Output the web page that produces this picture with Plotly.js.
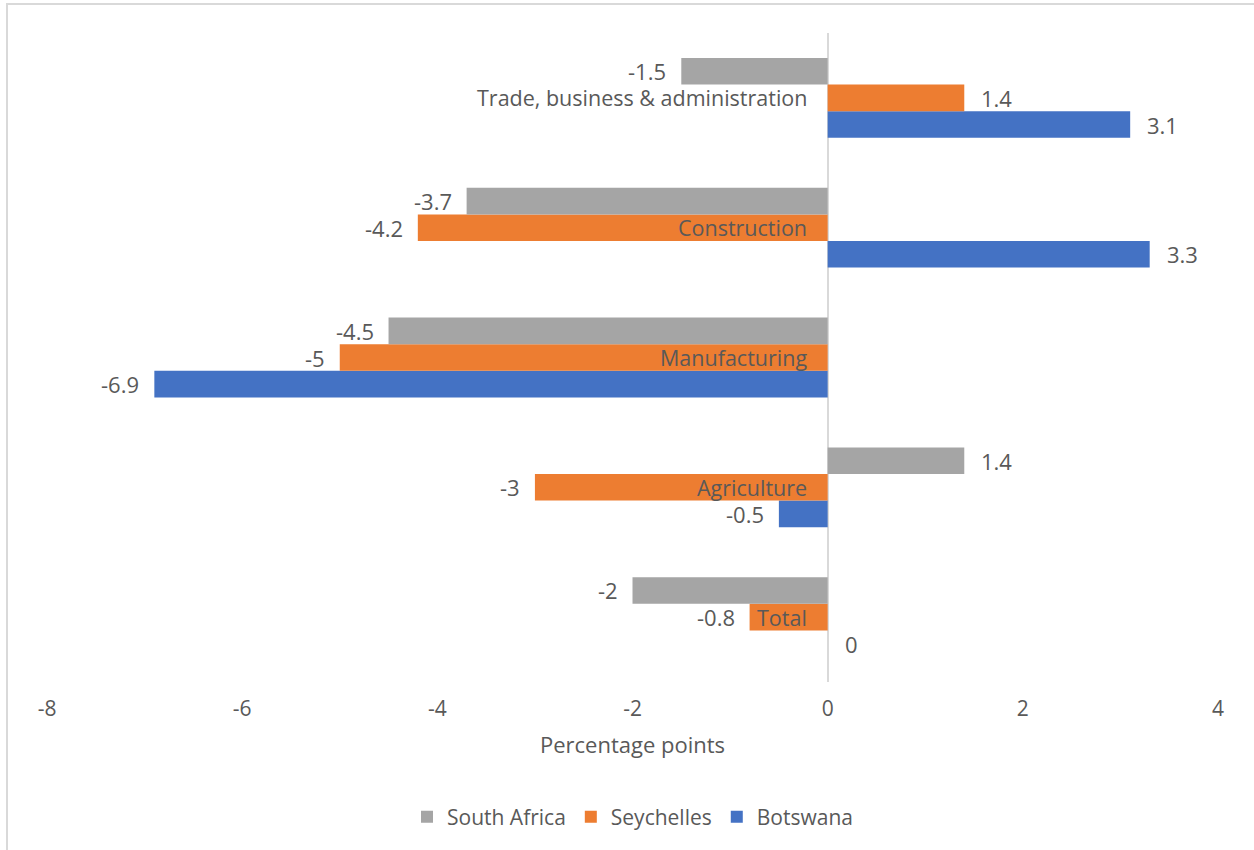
<!DOCTYPE html>
<html>
<head>
<meta charset="utf-8">
<script src="https://cdn.plot.ly/plotly-3.0.1.min.js"></script>
<style>
  html, body { margin: 0; padding: 0; background: #fff; }
  #wrap { position: relative; width: 1254px; height: 850px; }
  #chart { position: absolute; left: 0; top: 0; width: 1254px; height: 850px; }
  #frame { position: absolute; left: 6px; top: 3px; width: 1260px; height: 860px;
           border-left: 2px solid #D9D9D9; border-top: 2px solid #D9D9D9; pointer-events: none; }
</style>
</head>
<body>
<div id="wrap">
  <div id="chart"></div>
  <div id="frame"></div>
</div>
<script>
// Categories (bottom to top as drawn)
const categories = ["Total", "Agriculture", "Manufacturing", "Construction", "Trade, business & administration"];
// Series values (same order as categories)
const southAfrica = [-2, 1.4, -4.5, -3.7, -1.5];
const seychelles  = [-0.8, -3, -5, -4.2, 1.4];
const botswana    = [0, -0.5, -6.9, 3.3, 3.1];
const seriesNames = ["South Africa", "Seychelles", "Botswana"];
const xTicks = [-8, -6, -4, -2, 0, 2, 4];

const FONT = "'Open Sans', 'Liberation Sans', Arial, sans-serif";
const TXT = "#595959";
const colors = { "South Africa": "#A5A5A5", "Seychelles": "#ED7D31", "Botswana": "#4472C4" };

// Traces: first trace is lowest within a group (Botswana at bottom)
const seriesData = [
  { name: "Botswana", vals: botswana },
  { name: "Seychelles", vals: seychelles },
  { name: "South Africa", vals: southAfrica }
];

const traces = seriesData.map(s => ({
  type: "bar",
  orientation: "h",
  name: s.name,
  x: s.vals,
  y: categories,
  marker: { color: colors[s.name], line: { width: 0 } },
  hoverinfo: "x+name"
}));

const bargap = 0.385;
const barW = (1 - bargap) / 3;
const offsets = { "Botswana": -barW, "Seychelles": 0, "South Africa": barW };

const annotations = [];
seriesData.forEach(s => {
  s.vals.forEach((v, i) => {
    annotations.push({
      x: v, y: i + offsets[s.name], xref: "x", yref: "y",
      text: String(v), showarrow: false,
      xanchor: v >= 0 ? "left" : "right",
      xshift: v >= 0 ? 15 : -13,
      font: { family: FONT, size: 22, color: TXT }
    });
  });
});
categories.forEach((c, i) => {
  annotations.push({
    x: 0, y: i, xref: "x", yref: "y",
    text: c, showarrow: false, xanchor: "right", xshift: -19,
    font: { family: FONT, size: 21.5, color: TXT }
  });
});

const layout = {
  width: 1254, height: 850,
  margin: { l: 47, r: 36, t: 33, b: 168 },
  paper_bgcolor: "#fff", plot_bgcolor: "#fff",
  barmode: "group", bargap: bargap, bargroupgap: 0,
  font: { family: FONT, color: TXT, size: 21 },
  xaxis: {
    range: [-8, 4], tickvals: xTicks, ticktext: xTicks.map(String),
    showgrid: false, zeroline: true, zerolinecolor: "#D9D9D9", zerolinewidth: 2,
    showline: false, ticks: "", ticklabelstandoff: 12,
    tickfont: { family: FONT, size: 21, color: TXT },
    title: { text: "Percentage points", font: { family: FONT, size: 22, color: TXT }, standoff: 16 },
    fixedrange: true
  },
  yaxis: {
    type: "category", categoryorder: "array", categoryarray: categories,
    range: [-0.5, 4.5],
    showticklabels: false, showgrid: false, zeroline: false, showline: false, ticks: "",
    fixedrange: true
  },
  showlegend: true,
  legend: {
    orientation: "h", traceorder: "reversed",
    x: 0.5, xanchor: "center", y: -0.208, yanchor: "middle",
    font: { family: FONT, size: 21, color: TXT },
    itemwidth: 30
  },
  annotations: annotations
};

Plotly.newPlot("chart", traces, layout, { displayModeBar: false, staticPlot: true });
</script>
</body>
</html>
